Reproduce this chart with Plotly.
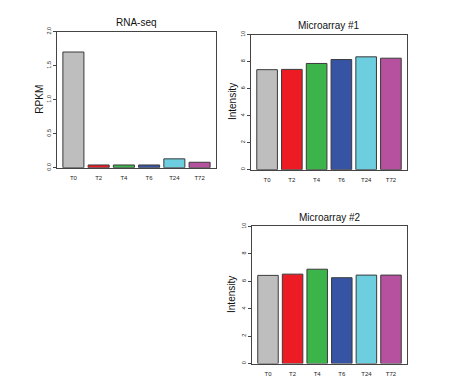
import plotly.graph_objects as go

categories = ["T0", "T2", "T4", "T6", "T24", "T72"]
rnaseq_rpkm = [1.70, 0.04, 0.04, 0.04, 0.13, 0.08]
microarray1_intensity = [7.40, 7.42, 7.86, 8.15, 8.35, 8.25]
microarray2_intensity = [6.43, 6.52, 6.88, 6.26, 6.45, 6.45]
bar_colors = ["#BEBEBE", "#ED1C24", "#3BB54A", "#3753A4", "#6CCEDF", "#B5519F"]

OFF = 8  # page body margin of the browser
W, H = 462 - OFF, 391 - OFF
FONT = "Liberation Sans, Arial, sans-serif"

# panel frames in reference pixels: (left, right, top, bottom)
frames = {
    1: (57, 216, 27, 166),
    2: (251, 407, 30, 168),
    3: (252, 407, 226, 366),
}

def px(x):
    return (x - OFF) / W

def py(y):
    return 1 - (y - OFF) / H

fig = go.Figure()

panels = [
    (1, rnaseq_rpkm, "RNA-seq", "RPKM", [0, 2], 0.5, ".1f", 17),
    (2, microarray1_intensity, "Microarray #1", "Intensity", [0, 10], 2, "d", 19),
    (3, microarray2_intensity, "Microarray #2", "Intensity", [0, 10], 2, "d", 20),
]

for i, vals, title, ytitle, yr, dt, fmt, yoff in panels:
    sfx = "" if i == 1 else str(i)
    fig.add_trace(go.Bar(
        x=categories, y=vals,
        marker=dict(color=bar_colors, line=dict(color="#3a3a3a", width=1)),
        xaxis="x" + sfx, yaxis="y" + sfx, showlegend=False,
    ))
    l, r, t, b = frames[i]
    fig.update_layout(**{
        "xaxis" + sfx: dict(
            domain=[px(l), px(r)], anchor="y" + sfx, type="category",
            range=[-0.65, 5.65], showgrid=False, zeroline=False,
            showline=True, mirror=True, linecolor="#444444", linewidth=1,
            ticks="", tickfont=dict(size=6, color="#222222", family=FONT),
            ticklabelstandoff=4, fixedrange=True,
        ),
        "yaxis" + sfx: dict(
            domain=[py(b), py(t)], anchor="x" + sfx, range=yr, dtick=dt, tick0=0,
            tickformat=fmt, showgrid=False, zeroline=False,
            showline=True, mirror=True, linecolor="#444444", linewidth=1,
            ticks="outside", ticklen=3, tickcolor="#444444",
            tickangle=-90, tickfont=dict(size=5.5, color="#222222", family=FONT),
            fixedrange=True,
        ),
    })
    fig.add_annotation(
        x=px((l + r) / 2), y=py(t - 9), xref="paper", yref="paper",
        text=title, showarrow=False, xanchor="center", yanchor="middle",
        font=dict(size=10, color="#111111", family=FONT),
    )
    fig.add_annotation(
        x=px(l - yoff), y=py((t + b) / 2), xref="paper", yref="paper",
        text=ytitle, showarrow=False, textangle=-90, xanchor="center", yanchor="middle",
        font=dict(size=10, color="#111111", family=FONT),
    )

fig.update_layout(
    width=W, height=H, margin=dict(l=0, r=0, t=0, b=0),
    paper_bgcolor="white", plot_bgcolor="white",
    bargap=1 - 1 / 1.2,
)

fig.write_html("out.html")
